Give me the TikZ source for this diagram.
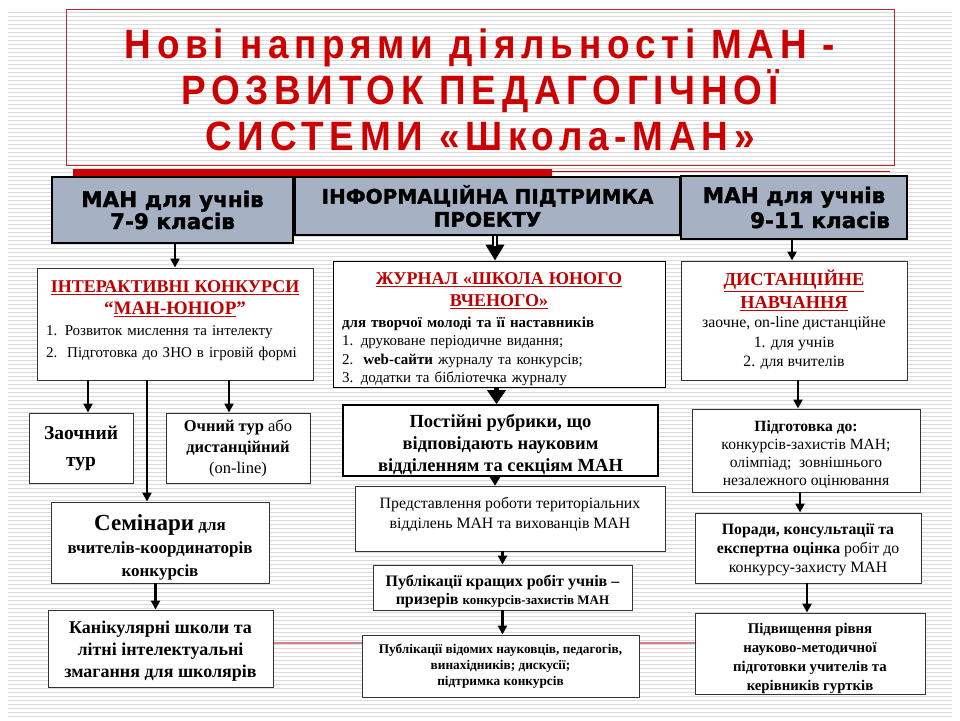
\documentclass[tikz,border=0pt]{standalone}
\usepackage{fontspec}
\setmainfont{Liberation Serif}
\newfontfamily\hdrfont[BoldFeatures={FakeBold=1.6}]{DejaVu Sans}
\newfontfamily\titlefont[FakeStretch=0.9,LetterSpace=14]{Liberation Sans}
\usetikzlibrary{arrows.meta,positioning}
\definecolor{manred}{RGB}{192,0,0}
\definecolor{titlered}{RGB}{204,0,0}
\definecolor{framered}{RGB}{190,40,50}
\definecolor{hdrfill}{RGB}{166,178,196}
\definecolor{stripegray}{RGB}{218,218,218}
\definecolor{pinkline}{RGB}{214,128,140}
\newcommand{\fsz}[2]{\fontsize{#1}{#2}\selectfont}
\newcommand{\redhd}[1]{\textcolor{manred}{\bfseries\underline{#1}}}
\newcommand{\ctrline}[1]{\makebox[\linewidth]{#1}}
\newcommand{\lowpad}[1]{\rule[-#1]{0pt}{#1}}
\newcommand{\toppad}[1]{\rule{0pt}{#1}}

\begin{document}
\begin{tikzpicture}[
  x=1pt, y=-1pt,
  stripe/.style={stripegray, line width=0.6pt},
  hdrbox/.style={rectangle, draw=black, line width=1.6pt, fill=hdrfill, align=center, inner sep=0pt, font=\hdrfont\bfseries},
  infobox/.style={rectangle, draw=black!80, line width=0.9pt, fill=white, align=center, inner sep=0pt},
  arr/.style={line width=2.2pt, -{Triangle[length=9pt,width=9pt]}},
  bigarr/.style={line width=5.5pt, -{Triangle[length=16pt,width=18pt]}},
  hollow/.style={white, line width=2pt},
]
\useasboundingbox (0,0) rectangle (960,720);
\fill[white] (0,0) rectangle (960,720);

% slide background
\foreach \y in {12,16,...,716}
  \draw[stripe] (8,\y) -- (952,\y);
\draw[pinkline, line width=1.8pt] (273,643) -- (695,643);
\fill[titlered] (73,169) rectangle (552,176);
\draw[titlered, line width=0.8pt] (552,171) -- (890,171);

% title
\node[draw=framered, line width=0.9pt, minimum width=828pt, minimum height=156pt, align=center,
  font=\titlefont\bfseries\fsz{41}{46}, text=titlered] (title) at (480,87)
  {\toppad{36pt}Нові напрями діяльності МАН -\\РОЗВИТОК ПЕДАГОГІЧНОЇ\\СИСТЕМИ «Школа-МАН»};

% headers
\node[hdrbox, minimum width=241pt, minimum height=66pt, font=\hdrfont\bfseries\fsz{21.5}{22}] (hdr79) at (172.5,210)
  {МАН для учнів\\7-9 класів};
\node[hdrbox, minimum width=385pt, minimum height=58pt, font=\hdrfont\bfseries\fsz{20}{23}] (info) at (487.5,206)
  {ІНФОРМАЦІЙНА ПІДТРИМКА\\ПРОЕКТУ};
\node[hdrbox, minimum width=226pt, minimum height=63pt, font=\hdrfont\bfseries\fsz{21.5}{25}] (hdr911) at (794,207.5)
  {МАН для учнів\\\hspace*{52pt}9-11 класів};

% left column
\node[infobox, minimum width=276pt, minimum height=112pt, text width=258pt, align=left, font=\fsz{15}{21.5}] (konk) at (175,324)
  {\ctrline{\redhd{\fsz{18}{21.5}ІНТЕРАКТИВНІ КОНКУРСИ}}\\
   \ctrline{\textcolor{manred}{\bfseries\fsz{19}{21.5}“\underline{МАН-ЮНІОР}”}}\\
   1. Розвиток мислення та інтелекту\\
   2.\ \ Підготовка до ЗНО в ігровій формі\lowpad{10pt}};
\node[infobox, minimum width=104pt, minimum height=70pt, font=\bfseries\fsz{19.5}{27}] (zaoch) at (81,448)
  {Заочний\\тур};
\node[infobox, minimum width=144pt, minimum height=70pt, font=\fsz{16.5}{21}] (ochn) at (238,448)
  {\textbf{Очний тур} або\\\textbf{дистанційний}\\(on-line)};
\node[infobox, minimum width=218pt, minimum height=81pt, font=\bfseries\fsz{17}{23}] (semin) at (160,542.5)
  {\toppad{25pt}{\fsz{23}{23}Семінари} для\\вчителів-координаторів\\конкурсів};
\node[infobox, minimum width=225pt, minimum height=77pt, font=\bfseries\fsz{18}{22}] (kanik) at (160.5,648.5)
  {\toppad{18.5pt}Канікулярні школи та\\літні інтелектуальні\\змагання для школярів};

% middle column
\node[infobox, draw=black, minimum width=332pt, minimum height=126pt, text width=314pt, align=left, font=\fsz{15}{18.5}] (zhurn) at (499,324)
  {\ctrline{\toppad{22pt}\redhd{\fsz{18}{23}ЖУРНАЛ «ШКОЛА ЮНОГО}}\\[4pt]
   \ctrline{\redhd{\fsz{18}{23}ВЧЕНОГО»}}\\[2pt]
   \textbf{для творчої молоді та її наставників}\\
   1. друковане періодичне видання;\\
   2.\ \ \textbf{web-сайти} журналу та конкурсів;\\
   3. додатки та бібліотечка журналу};
\node[infobox, draw=black, line width=1.6pt, minimum width=315pt, minimum height=71pt, font=\bfseries\fsz{18.5}{22}] (rubr) at (500.5,440.5)
  {\toppad{21pt}Постійні рубрики, що\\відповідають науковим\\відділенням та секціям МАН};
\node[infobox, minimum width=310pt, minimum height=65pt, font=\fsz{15.8}{20}] (predst) at (510,518.5)
  {Представлення роботи територіальних\\відділень МАН та вихованців МАН\lowpad{12pt}};
\node[infobox, minimum width=259pt, minimum height=45pt, font=\bfseries\fsz{16}{18}] (publ1) at (502.5,587.5)
  {\toppad{19pt}Публікації кращих робіт учнів –\\призерів {\fsz{13}{18}конкурсів-захистів МАН}};
\node[infobox, minimum width=277pt, minimum height=62pt, font=\bfseries\fsz{13.3}{16}] (publ2) at (500.5,666)
  {Публікації відомих науковців, педагогів,\\винахідників; дискусії;\\підтримка конкурсів};

% right column
\node[infobox, minimum width=226pt, minimum height=119pt, font=\fsz{15.8}{19.5}] (dist) at (794,320.5)
  {\redhd{\fsz{18.3}{22}ДИСТАНЦІЙНЕ}\\[3pt]
   \redhd{\fsz{18.3}{22}НАВЧАННЯ}\\
   заочне, on-line дистанційне\\
   1. для учнів\\
   2. для вчителів\lowpad{4pt}};
\node[infobox, minimum width=228pt, minimum height=83pt, font=\fsz{15.6}{18}] (pidg) at (806,450.5)
  {\toppad{19pt}\textbf{Підготовка до:}\\конкурсів-захистів МАН;\\олімпіад;\ \ зовнішнього\\незалежного оцінювання};
\node[infobox, minimum width=226pt, minimum height=70pt, font=\fsz{15.8}{19}] (porad) at (808,548)
  {\toppad{15pt}\textbf{Поради, консультації та}\\\textbf{експертна оцінка} робіт до\\конкурсу-захисту МАН};
\node[infobox, minimum width=230pt, minimum height=81pt, font=\bfseries\fsz{14.8}{19}] (pidv) at (810,653.5)
  {\toppad{20.5pt}Підвищення рівня\\науково-методичної\\підготовки учителів та\\керівників гуртків};

% arrow columns
\coordinate (zx) at ([xshift=7pt]zaoch.north);
\coordinate (ox) at ([xshift=-9pt]ochn.north);
\coordinate (sx) at ([xshift=-13pt]semin.north);
\coordinate (kx) at ([xshift=-5pt]kanik.north);
\coordinate (jx) at ([xshift=-4pt]zhurn.north);
\coordinate (rx) at ([xshift=-4pt]rubr.north);
\coordinate (px) at ([xshift=-15pt]predst.north);
\coordinate (p1x) at ([xshift=0pt]publ1.north);
\coordinate (p2x) at ([xshift=2pt]publ2.north);
\coordinate (dx) at ([xshift=-2pt]dist.north);
\coordinate (gx) at ([xshift=-8pt]pidg.north);
\coordinate (rdx) at ([xshift=-8pt]porad.north);
\coordinate (vx) at ([xshift=-3pt]pidv.north);

% connectors
\draw[arr] (hdr79.south -| konk.north) -- (konk.north);
\draw[arr] (zx |- konk.south) -- (zx);
\draw[arr] (ox |- konk.south) -- (ox);
\draw[arr] (sx |- konk.south) -- (sx);
\draw[arr] (kx |- semin.south) -- (kx);
\draw[bigarr] (info.south -| jx) -- (jx);
\draw[hollow, shorten >=15pt] (info.south -| jx) -- (jx);
\draw[bigarr, -{Triangle[length=14pt,width=18pt]}] (zhurn.south -| rx) -- (rx);
\draw[line width=0.5pt, -{Triangle[length=9pt,width=11pt]}] (rubr.south -| px) -- (px);
\draw[arr] (predst.south -| p1x) -- (p1x);
\draw[arr] (publ1.south -| p2x) -- (p2x);
\draw[arr] (hdr911.south -| dx) -- (dx);
\draw[arr] (dist.south -| gx) -- (gx);
\draw[arr] (pidg.south -| rdx) -- (rdx);
\draw[arr] (porad.south -| vx) -- (vx);

\end{tikzpicture}
\end{document}
